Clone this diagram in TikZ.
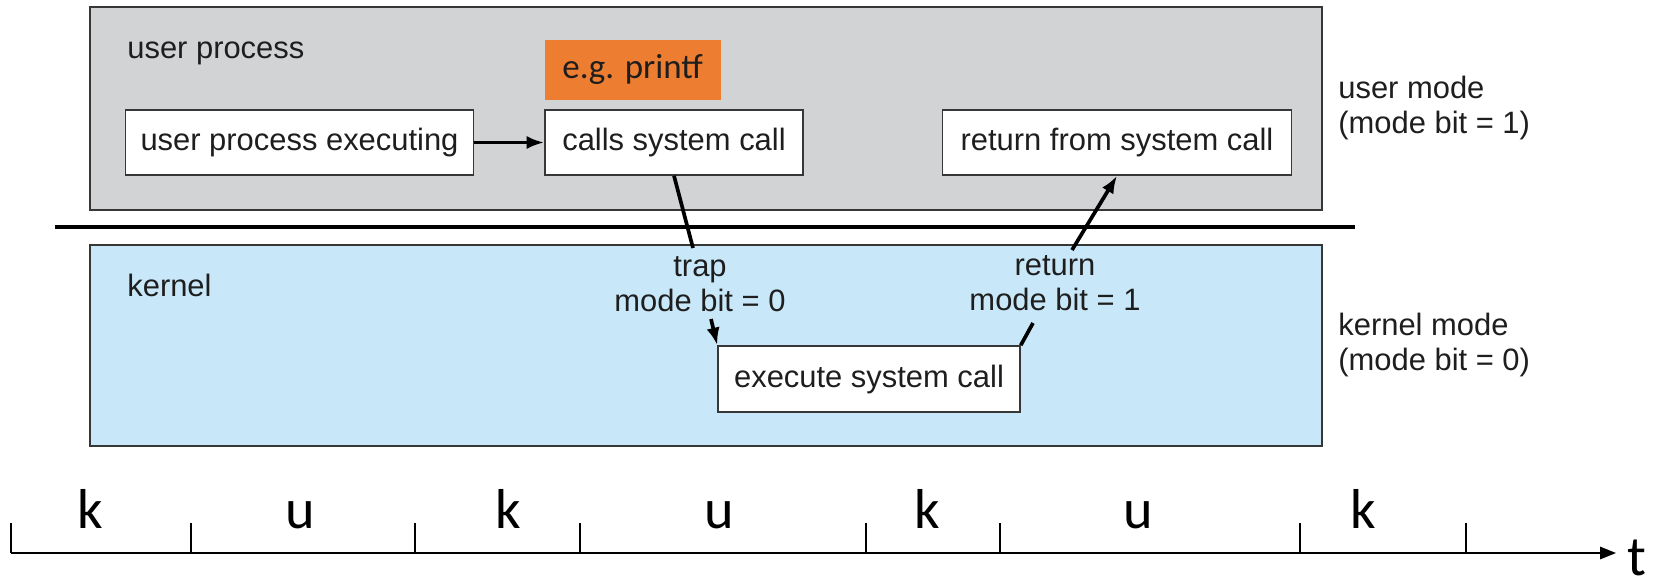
\documentclass[tikz,border=0pt]{standalone}
\usepackage{fontspec}
\setmainfont{Liberation Sans}
\newfontfamily\calfont{Carlito}
\usetikzlibrary{positioning}
\usetikzlibrary{arrows.meta}
\definecolor{usergray}{RGB}{210,211,213}
\definecolor{kernblue}{RGB}{200,232,249}
\definecolor{printforange}{RGB}{237,125,49}
\definecolor{edgegray}{RGB}{55,55,55}
\definecolor{inkgray}{RGB}{30,30,30}

\begin{document}
\begin{tikzpicture}[
      x=0.02cm, y=-0.02cm,
      font=\fontsize{17.6pt}{19.9pt}\selectfont,
      text=inkgray,
      callbox/.style={draw=edgegray,fill=white,line width=0.9pt,minimum height=1.3cm,inner sep=0pt},
      lbl/.style={inner sep=0pt},
      conn/.style={line width=2.1pt,black},
      modeletter/.style={inner sep=0pt,text=black,font=\calfont\fontsize{32pt}{36pt}\selectfont}
      ]

  \useasboundingbox[fill=white] (0,0) rectangle (1656,586);

  % user and kernel regions
  \draw[edgegray, fill=usergray, line width=0.9pt] (90,7) rectangle (1322,210);
  \draw[edgegray, fill=kernblue, line width=0.9pt] (90,245) rectangle (1322,446);
  \draw[black, line width=2.3pt] (55,227) -- (1355,227);

  \node[lbl, anchor=base west] (userlbl) at (127,58) {user process};
  \node[lbl, anchor=base west] (kernlbl) at (127,296) {kernel};
  \node[lbl, anchor=base west, align=left] (umode) at (1338,133) {user mode\\(mode bit = 1)};
  \node[lbl, anchor=base west, align=left] (kmode) at (1338,370) {kernel mode\\(mode bit = 0)};

  \node[callbox, minimum width=6.96cm] (exec) at (299.5,142.5) {user process executing};
  \node[callbox, minimum width=5.16cm, right=1.4cm of exec] (calls) {calls system call};
  \node[callbox, minimum width=6.98cm, right=2.76cm of calls] (retsys) {return from system call};
  \node[fill=printforange, minimum width=3.52cm, minimum height=1.2cm, inner sep=0pt,
        font=\calfont\fontsize{19.9pt}{22pt}\selectfont,
        above right=0.18cm and 0cm of calls.north west] (printf) {e.g. printf};
  \node[callbox, minimum width=6.04cm, minimum height=1.32cm] (kexec) at (869,379) {execute system call};

  \node[lbl, anchor=base, align=center] (traplbl) at (700,311) {trap\\mode bit = 0};
  \node[lbl, anchor=base, align=center] (retlbl) at (1055,310) {return\\mode bit = 1};

  \coordinate (trapin) at (693,248);
  \coordinate (trapout) at (711,319);
  \coordinate (retout) at (1033,323);
  \coordinate (retin) at (1072,250);

  \draw[conn, -{Latex[length=10pt,width=7.5pt]}] (exec) -- (calls);
  \draw[conn] (calls.south) -- (trapin);
  \draw[conn, -{Latex[length=10pt,width=7.5pt]}] (trapout) -- (kexec.north west);
  \draw[conn] (kexec.north east) -- (retout);
  \draw[conn, -{Latex[length=10pt,width=7.5pt]}] (retin) -- (retsys.south);

  % time line
  \coordinate (t0) at (11,553);
  \coordinate (t1) at (1616,553);
  \draw[line width=1pt, -{Triangle[length=9pt,width=7pt]}] (t0) -- (t1);
  \foreach \x in {11,191,415,580,866,1000,1300,1466}
    \draw[line width=0.7pt] (\x,553) -- (\x,523);
  \foreach \x/\m [count=\i] in {90/k,300/u,508/k,719/u,927/k,1138/u,1363/k}
    \node[modeletter, anchor=base] (slot\i) at (\x,528) {\m};
  \node[modeletter, anchor=base west] (tlbl) at (1627,575) {t};

\end{tikzpicture}
\end{document}
